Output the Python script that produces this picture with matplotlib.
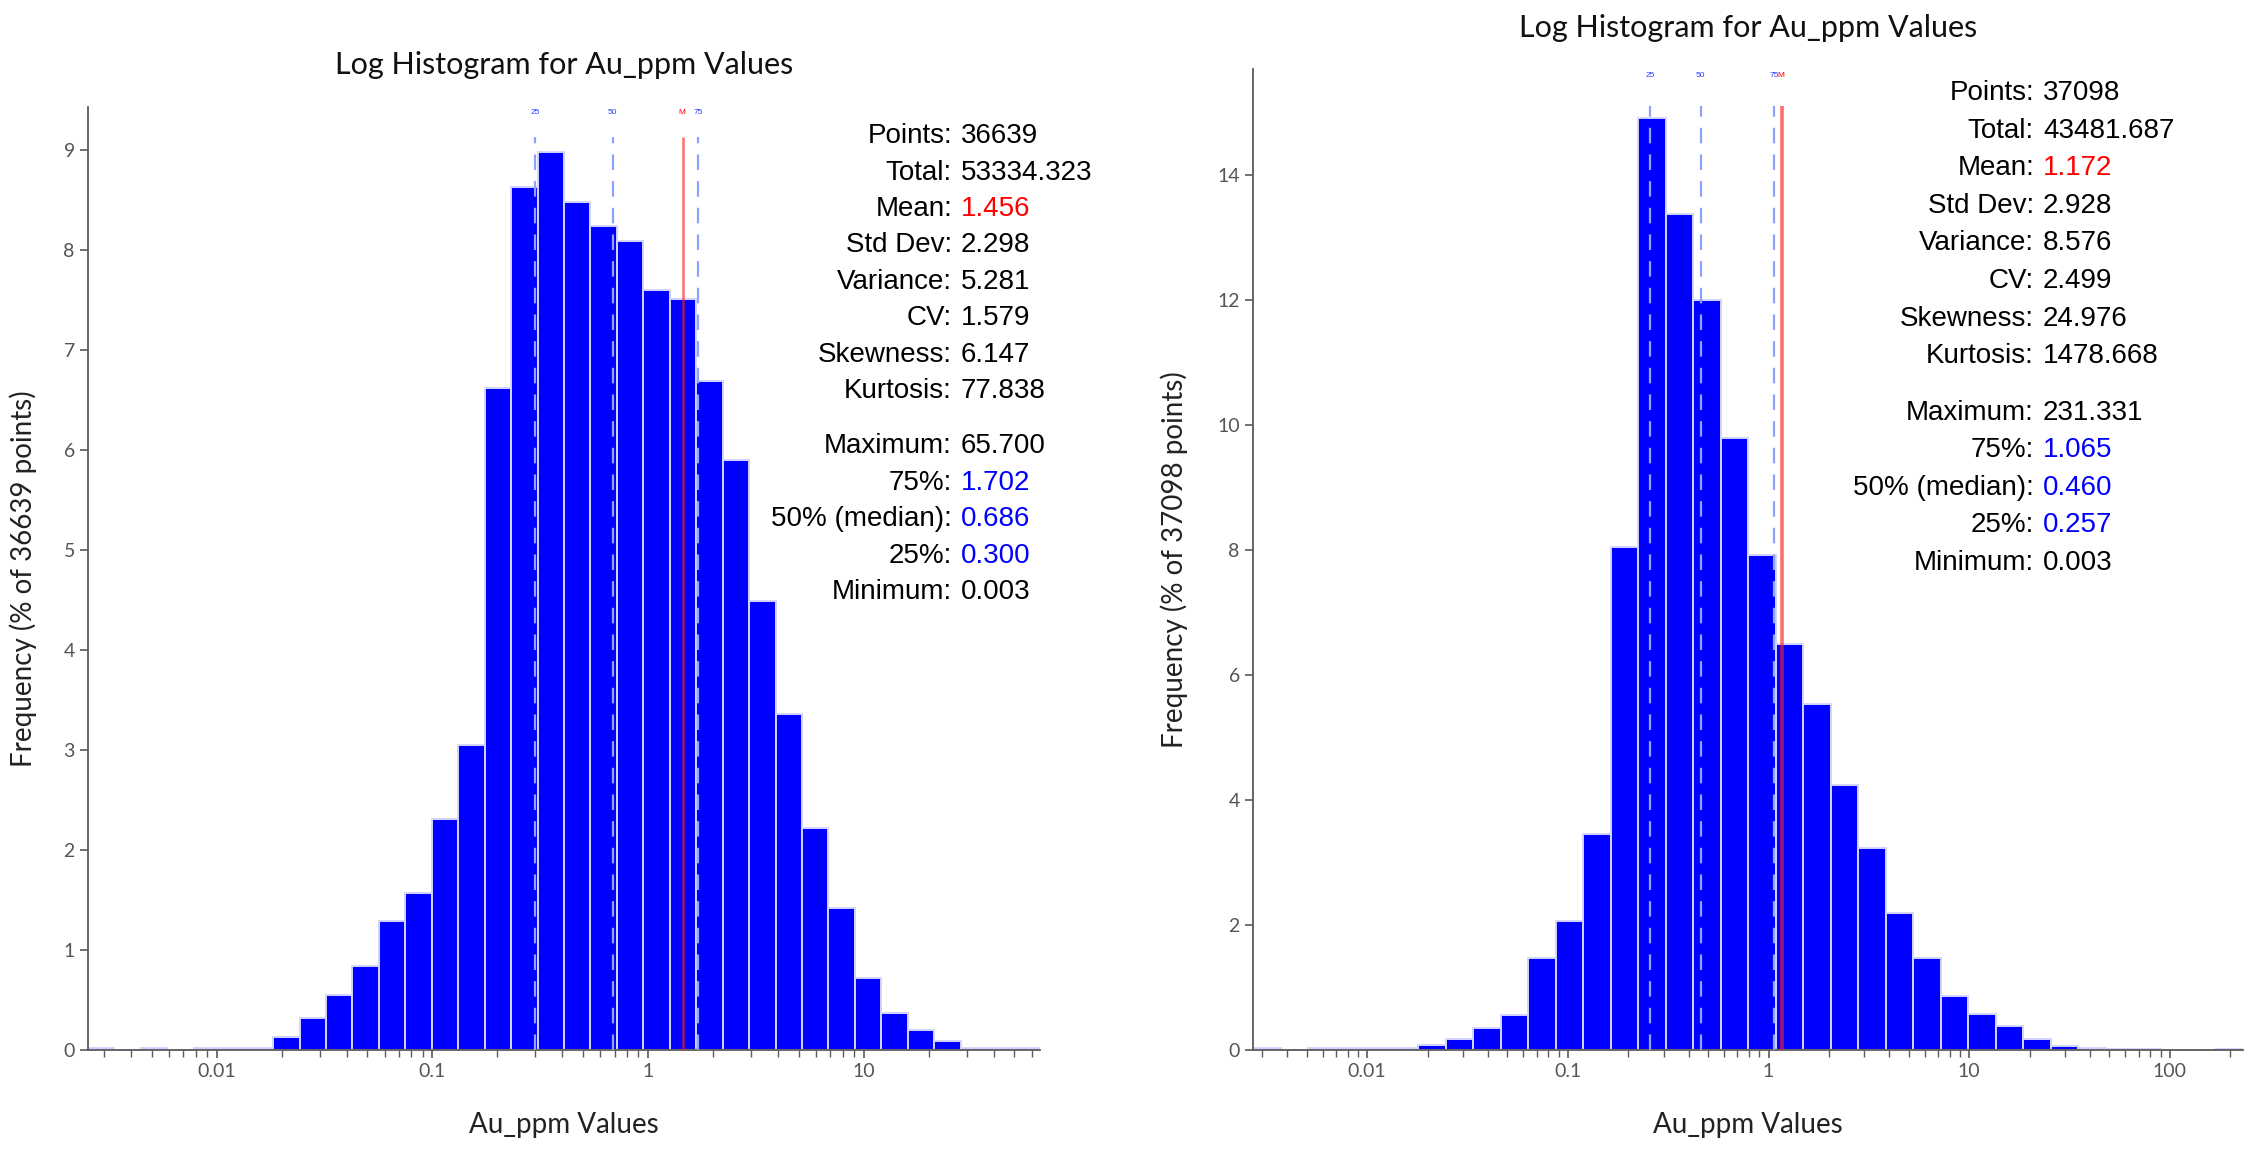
import matplotlib
matplotlib.use("Agg")
import matplotlib.pyplot as plt
from matplotlib.ticker import LogLocator, FixedLocator, FuncFormatter, NullFormatter
import numpy as np

# ---- data -------------------------------------------------------------------
# left panel: 36 log bins between the axis limits, % of points
LEFT_RANGE = (0.00253, 65.7)
LEFT_FREQ = [0.02, 0.0, 0.02, 0.0, 0.02, 0.02, 0.02, 0.13, 0.32, 0.55, 0.84, 1.29,
             1.57, 2.31, 3.05, 6.62, 8.63, 8.98, 8.48, 8.24, 8.09, 7.60, 7.51, 6.69,
             5.90, 4.49, 3.36, 2.22, 1.42, 0.72, 0.37, 0.20, 0.09, 0.02, 0.02, 0.02]
LEFT_MARKS = {"25": 0.300, "50": 0.686, "75": 1.702}
LEFT_MEAN = 1.456
LEFT_VALUES = ["36639", "53334.323", "1.456", "2.298", "5.281", "1.579", "6.147",
               "77.838", "65.700", "1.702", "0.686", "0.300", "0.003"]
LEFT_YTICKS = list(range(0, 10))

RIGHT_RANGE = (0.0027, 231.331)
RIGHT_FREQ = [0.03, 0.0, 0.03, 0.03, 0.03, 0.03, 0.08, 0.18, 0.35, 0.56, 1.47, 2.07,
              3.45, 8.05, 14.92, 13.38, 12.00, 9.79, 7.93, 6.49, 5.53, 4.24, 3.23, 2.20,
              1.47, 0.86, 0.57, 0.38, 0.17, 0.07, 0.04, 0.02, 0.02, 0.0, 0.0, 0.02]
RIGHT_MARKS = {"25": 0.257, "50": 0.460, "75": 1.065}
RIGHT_MEAN = 1.172
RIGHT_VALUES = ["37098", "43481.687", "1.172", "2.928", "8.576", "2.499", "24.976",
                "1478.668", "231.331", "1.065", "0.460", "0.257", "0.003"]
RIGHT_YTICKS = list(range(0, 15, 2))

STAT_LABELS = ["Points:", "Total:", "Mean:", "Std Dev:", "Variance:", "CV:",
               "Skewness:", "Kurtosis:", "Maximum:", "75%:", "50% (median):",
               "25%:", "Minimum:"]
STAT_COLORS = ["black", "black", "red", "black", "black", "black", "black",
               "black", "black", "blue", "blue", "blue", "black"]

TITLE = "Log Histogram for Au_ppm Values"
XLABEL = "Au_ppm Values"

W, H = 2257, 1170
HEAD = ["Lato", "DejaVu Sans"]
BODY = ["Liberation Sans", "DejaVu Sans"]


def fmt_tick(v, _pos):
    return f"{v:g}"


def draw_panel(ax, rng, freq, marks, mean, values, ylim, yticks,
               line_top, label_y, colon_px, first_row_px, row_px,
               title_pad, ylabel_pad, mean_lw):
    edges = np.logspace(np.log10(rng[0]), np.log10(rng[1]), len(freq) + 1)
    ax.bar(edges[:-1], freq, width=np.diff(edges), align="edge",
           color="#0000ff", edgecolor="#d4d4ff", linewidth=1.4, zorder=2)

    ax.set_xscale("log")
    ax.set_xlim(*rng)
    ax.set_ylim(0, ylim)

    # quartile markers and mean
    for lab, v in marks.items():
        ax.vlines(v, 0, line_top, colors="#8ea2ff", linewidth=1.6,
                  linestyles=(0, (7, 5)), zorder=3)
        ax.text(v, label_y, lab, color="#2a3cff", fontsize=6, ha="center",
                va="center", family=BODY)
    ax.vlines(mean, 0, line_top, colors="#ff2020", linewidth=mean_lw, alpha=0.65,
              zorder=3)
    ax.text(mean * 0.985, label_y, "M", color="red", fontsize=6, ha="center",
            va="center", family=BODY)

    for sp in ("top", "right"):
        ax.spines[sp].set_visible(False)
    for sp in ("left", "bottom"):
        ax.spines[sp].set_color("#5a5a5a")
        ax.spines[sp].set_linewidth(1.3)

    ax.xaxis.set_major_locator(LogLocator(base=10, numticks=20))
    ax.xaxis.set_major_formatter(FuncFormatter(fmt_tick))
    ax.xaxis.set_minor_locator(LogLocator(base=10, subs=np.arange(2, 10), numticks=20))
    ax.xaxis.set_minor_formatter(NullFormatter())
    ax.yaxis.set_major_locator(FixedLocator(yticks))
    ax.tick_params(axis="both", which="major", length=6, width=1.2, color="#5a5a5a",
                   labelcolor="#555555", labelsize=14, direction="out")
    ax.tick_params(axis="x", which="minor", length=5, width=1.0, color="#5a5a5a")
    for t in ax.get_xticklabels() + ax.get_yticklabels():
        t.set_family(HEAD)

    ax.set_title(TITLE, fontsize=22, family=HEAD, color="#111111", pad=title_pad)
    ax.set_xlabel(XLABEL, fontsize=20, family=HEAD, color="#222222", labelpad=23)
    ax.set_ylabel(f"Frequency (% of {values[0]} points)", fontsize=20, family=HEAD,
                  color="#222222", labelpad=ylabel_pad)

    # statistics block
    fig = ax.figure
    for i, (lab, val, col) in enumerate(zip(STAT_LABELS, values, STAT_COLORS)):
        y_px = first_row_px + i * row_px + (row_px * 0.5 if i >= 8 else 0)
        yf = 1 - y_px / H
        fig.text(colon_px / W, yf, lab, ha="right", va="center", fontsize=20,
                 family=BODY, color="black")
        fig.text((colon_px + 9) / W, yf, val, ha="left", va="center", fontsize=20,
                 family=BODY, color=col)


fig = plt.figure(figsize=(W / 100, H / 100), dpi=100)
ax_l = fig.add_axes([88 / W, 120 / H, (1040 - 88) / W, (1050 - 107) / H])
ax_r = fig.add_axes([1253 / W, 120 / H, (2243 - 1253) / W, (1050 - 69) / H])

draw_panel(ax_l, LEFT_RANGE, LEFT_FREQ, LEFT_MARKS, LEFT_MEAN, LEFT_VALUES, 9.43,
           LEFT_YTICKS, 9.13, 9.37, 952, 136, 36.5, 24, 19, 1.8)
draw_panel(ax_r, RIGHT_RANGE, RIGHT_FREQ, RIGHT_MARKS, RIGHT_MEAN, RIGHT_VALUES, 15.7,
           RIGHT_YTICKS, 15.11, 15.59, 2034, 93, 37.6, 23, 21, 2.6)

fig.savefig("out.png", dpi=100)
